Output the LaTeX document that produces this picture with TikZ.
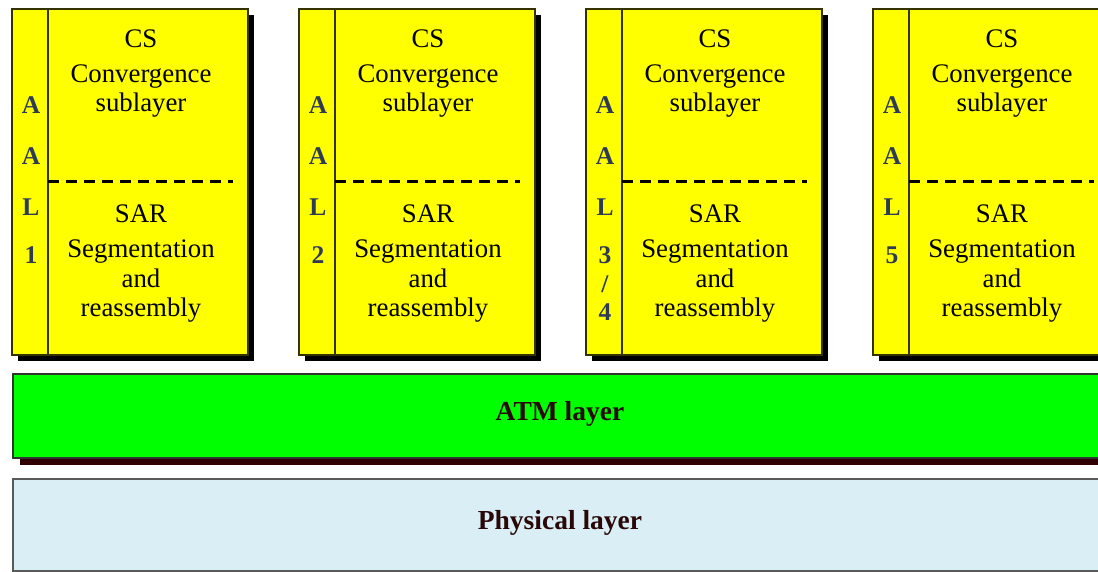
\documentclass[tikz,border=0pt]{standalone}
\usepackage{fontspec}
\setmainfont{Liberation Serif}
\usetikzlibrary{shadows,calc}
\definecolor{aalyellow}{HTML}{FFFF00}
\definecolor{aaledge}{HTML}{333300}
\definecolor{aalletter}{HTML}{2E3B57}
\definecolor{atmgreen}{HTML}{00FF00}
\definecolor{atmshadow}{HTML}{300000}
\definecolor{phyblue}{HTML}{D9EEF5}
\definecolor{layertext}{HTML}{2A0808}
\begin{document}
\begin{tikzpicture}[x=1pt,y=-1pt,
  aalbox/.style={draw=aaledge, line width=1.7pt, fill=aalyellow, inner sep=0pt,
    minimum width=236pt, minimum height=346pt, anchor=north west,
    drop shadow={shadow xshift=6pt, shadow yshift=-6pt, fill=black, opacity=1}},
  atmbox/.style={draw=black!80, line width=1.7pt, fill=atmgreen, inner sep=0pt,
    minimum width=1096pt, minimum height=84pt, anchor=north west,
    drop shadow={shadow xshift=7pt, shadow yshift=-7pt, fill=atmshadow, opacity=1}},
  phybox/.style={draw=black!65, line width=1.7pt, fill=phyblue, inner sep=0pt,
    minimum width=1096pt, minimum height=92pt, anchor=north west},
  sublabel/.style={anchor=base, inner sep=0pt, font=\fontsize{26.8}{30}\selectfont},
  aalletterstyle/.style={anchor=base, inner sep=0pt, text=aalletter,
    font=\fontsize{25.5}{28}\selectfont\bfseries},
  layerlabel/.style={inner sep=0pt, text=layertext, font=\fontsize{27.5}{30}\selectfont\bfseries},
  colsep/.style={draw=aaledge, line width=1.7pt},
  subsep/.style={draw=black, line width=3pt, dash pattern=on 11pt off 7pt}
]
\useasboundingbox (0,0) rectangle (1098,571);
\clip (0,0) rectangle (1098,571);

% AAL protocol boxes
\foreach \i/\num in {1/1,2/2,3/3,4/5}{
  \pgfmathsetmacro{\xo}{11+287*(\i-1)}
  \node[aalbox] (aal\i) at (\xo,8) {};
  \draw[colsep] ($(aal\i.north west)+(37,0)$) -- ($(aal\i.south west)+(37,0)$);
  \draw[subsep] ($(aal\i.north west)+(37,173)$) -- ($(aal\i.north west)+(222,173)$);
  % convergence sublayer text
  \node[sublabel] (cs\i)  at (\xo+130,47)  {CS};
  \node[sublabel] (cv\i)  at (\xo+130,82)  {Convergence};
  \node[sublabel] (sub\i) at (\xo+130,111) {sublayer};
  % segmentation and reassembly text
  \node[sublabel] (sar\i) at (\xo+130,222) {SAR};
  \node[sublabel] (seg\i) at (\xo+130,257) {Segmentation};
  \node[sublabel] (and\i) at (\xo+130,287) {and};
  \node[sublabel] (rea\i) at (\xo+130,316) {reassembly};
  % vertical AAL name
  \node[aalletterstyle] (la\i) at (\xo+20,113) {A};
  \node[aalletterstyle] (lb\i) at (\xo+20,164) {A};
  \node[aalletterstyle] (lc\i) at (\xo+20,215) {L};
}
\node[aalletterstyle] (ln1) at (31,263) {1};
\node[aalletterstyle] (ln2) at (318,263) {2};
\node[aalletterstyle] (ln3) at (605,263) {3};
\node[aalletterstyle] (ls3) at (605,292) {/};
\node[aalletterstyle] (lf3) at (605,320) {4};
\node[aalletterstyle] (ln4) at (892,263) {5};

% ATM and physical layers
\node[atmbox] (atm) at (12,373) {};
\node[layerlabel] (atmtext) at (560,414) {ATM layer};
\node[phybox] (phy) at (12,478) {};
\node[layerlabel] (phytext) at (560,523) {Physical layer};
\end{tikzpicture}
\end{document}
